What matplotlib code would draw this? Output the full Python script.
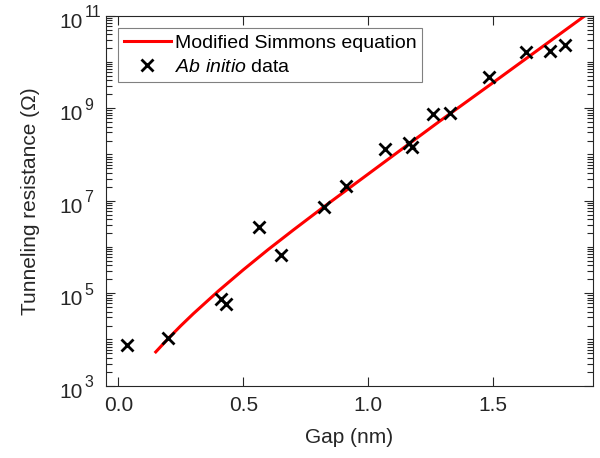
import matplotlib
matplotlib.use("Agg")
import matplotlib.pyplot as plt
from matplotlib.ticker import LogLocator, FixedLocator, NullFormatter
from matplotlib.transforms import blended_transform_factory
import numpy as np

plt.rcParams["font.family"] = ["Liberation Sans", "DejaVu Sans"]
plt.rcParams["mathtext.fontset"] = "custom"
plt.rcParams["mathtext.rm"] = "Liberation Sans"
plt.rcParams["mathtext.it"] = "Liberation Sans:italic"

# ab initio points (gap in nm, resistance in ohm)
gap_data = [0.035, 0.20, 0.41, 0.43, 0.563, 0.651, 0.824, 0.91, 1.067,
            1.163, 1.174, 1.258, 1.327, 1.483, 1.63, 1.727, 1.787]
res_data = [7.6e3, 1.06e4, 7.5e4, 5.8e4, 2.66e6, 6.7e5, 7.4e6, 2.1e7, 1.31e8,
            1.8e8, 1.47e8, 7.4e8, 8.0e8, 4.8e9, 1.61e10, 1.75e10, 2.32e10]

# modified Simmons equation curve (log10 of ohm)
gap_fit = [0.15, 0.20, 0.25, 0.30, 0.40, 0.50, 0.60, 0.70, 0.82, 1.0, 1.286, 1.5, 1.88]
log_res_fit = [3.73, 4.02, 4.295, 4.555, 5.045, 5.505, 5.945, 6.365, 6.857, 7.577,
               8.72, 9.555, 11.05]
res_fit = [10 ** v for v in log_res_fit]

x_ticks = [0.0, 0.5, 1.0, 1.5]
x_ticklabels = ["0.0", "0.5", "1.0", "1.5"]
y_ticks = [1e3, 1e5, 1e7, 1e9, 1e11]
y_exponents = ["3", "5", "7", "9", "11"]

text_col = "#262626"
spine_col = "#262626"

fig = plt.figure(figsize=(6.0, 4.58), dpi=100)
ax = fig.add_axes([0.1767, 0.1579, 0.8111, 0.8078])

ax.plot(gap_fit, res_fit, color="red", linewidth=2.2, label="Modified Simmons equation", zorder=2)
ax.plot(gap_data, res_data, linestyle="none", marker="x", color="black",
        markersize=8.5, markeredgewidth=2.0, label=r"$\mathit{Ab\ initio}$ data", zorder=3)

ax.set_yscale("log")
ax.set_xlim(-0.049, 1.898)
ax.set_ylim(1e3, 1e11)

ax.xaxis.set_major_locator(FixedLocator(x_ticks))
ax.set_xticklabels(x_ticklabels)
ax.set_yticks(y_ticks)
ax.set_yticklabels([])
ax.yaxis.set_minor_locator(LogLocator(base=10, subs=np.arange(1, 10), numticks=20))
ax.yaxis.set_minor_formatter(NullFormatter())

ax.tick_params(axis="both", which="both", direction="in", top=True, right=True,
               colors=spine_col, labelcolor=text_col, labelsize=15, width=0.8)
ax.tick_params(axis="both", which="major", length=6.5, pad=7.5)
ax.tick_params(axis="y", which="minor", length=4.3)
for s in ax.spines.values():
    s.set_color(spine_col)
    s.set_linewidth(0.8)

# MATLAB-style power labels: "10" with a large raised exponent
trans = blended_transform_factory(ax.transAxes, ax.transData)
for val, ex in zip(y_ticks, y_exponents):
    ax.annotate("10", xy=(0, val), xycoords=trans, xytext=(-23, -12),
                textcoords="offset pixels", ha="right", va="baseline",
                fontsize=15, color=text_col, annotation_clip=False)
    ax.annotate(ex, xy=(0, val), xycoords=trans, xytext=(-21.5, -1.5),
                textcoords="offset pixels", ha="left", va="baseline",
                fontsize=11.5, color=text_col, annotation_clip=False)

ax.set_xlabel("Gap (nm)", fontsize=15, color=text_col, va="top")
ax.xaxis.set_label_coords(0.5, -0.1135)
ax.set_ylabel("Tunneling resistance (Ω)", fontsize=15, color=text_col)
ax.yaxis.set_label_coords(-0.1366, 0.5)

leg = ax.legend(loc="upper left", bbox_to_anchor=(0.025, 0.966), fontsize=14,
                frameon=True, fancybox=False, edgecolor="#808080", framealpha=1,
                handlelength=2.4, handletextpad=0.2, borderpad=0.3,
                labelspacing=0.35, borderaxespad=0.0)
leg.get_frame().set_linewidth(0.8)
for t in leg.get_texts():
    t.set_color("black")

fig.savefig("out.png", dpi=100)
